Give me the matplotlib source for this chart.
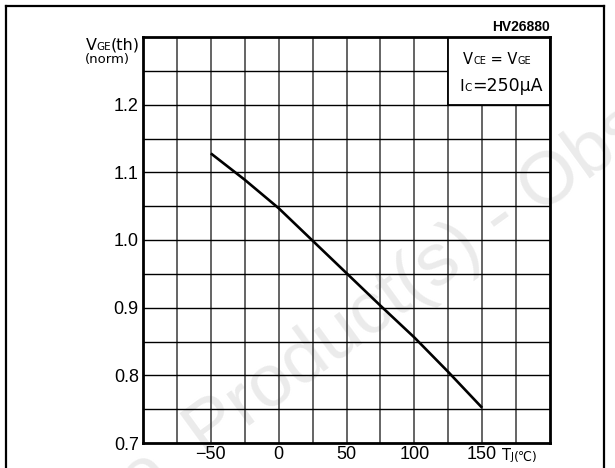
import matplotlib
matplotlib.use("Agg")
import matplotlib.pyplot as plt
from matplotlib.offsetbox import TextArea, HPacker, AnchoredOffsetbox
from matplotlib.patches import Rectangle
from matplotlib.lines import Line2D

# ---- data ----
temps = [-50, -25, 0, 25, 50, 75, 100, 125, 150]
vth_norm = [1.128, 1.089, 1.047, 0.999, 0.951, 0.903, 0.856, 0.805, 0.752]
x_ticks = [-50, 0, 50, 100, 150]
y_ticks = [0.7, 0.8, 0.9, 1.0, 1.1, 1.2]
part_no = "HV26880"

W, H = 615, 468
fig = plt.figure(figsize=(W / 100, H / 100), dpi=100)

def fx(px):
    return px / W

def fy(py):
    return 1 - py / H

L, R, T, B = 143, 550, 37, 443
ax = fig.add_axes([fx(L), fy(B), fx(R) - fx(L), fy(T) - fy(B)])
ax.set_facecolor("none")
ax.set_xlim(-100, 200)
ax.set_ylim(0.7, 1.3)

# grid
for xv in range(-75, 200, 25):
    ax.axvline(xv, color="#4a4a4a", lw=1.2, zorder=1)
for i in range(1, 12):
    yv = 0.7 + 0.05 * i
    ax.axhline(yv, color="black", lw=1.0, zorder=1)

# curve
ax.plot(temps, vth_norm, color="black", lw=1.9, zorder=3, solid_capstyle="butt")

# legend box
ax.add_patch(Rectangle((125, 1.2), 75, 0.1, facecolor="white", edgecolor="black",
                       lw=1.3, zorder=4))

for s in ax.spines.values():
    s.set_linewidth(2.0)
    s.set_zorder(5)

ax.set_xticks(x_ticks)
ax.set_yticks(y_ticks)
ax.set_xticklabels([("\u2212" + str(-v)) if v < 0 else str(v) for v in x_ticks])
ax.set_yticklabels(["%.1f" % v for v in y_ticks])
ax.tick_params(length=0, pad=3, labelsize=13)
for lab in ax.get_xticklabels() + ax.get_yticklabels():
    lab.set_fontfamily("Liberation Sans")
ax.tick_params(axis="x", pad=2)

# outer frame
fig.add_artist(Line2D([fx(6), fx(6)], [fy(6), fy(470)], color="black", lw=1.6))
fig.add_artist(Line2D([fx(6), fx(604)], [fy(6), fy(6)], color="black", lw=1.6))
fig.add_artist(Line2D([fx(604), fx(604)], [fy(6), fy(470)], color="black", lw=1.6))

# watermark
wm_color = "#ebebeb"
fig.text(fx(205), fy(458), "Product(s) - Obsolete", rotation=36, rotation_mode="anchor",
         ha="left", va="baseline", fontsize=54, color=wm_color, zorder=-1,
         family="Liberation Sans")
fig.text(fx(190), fy(469), "Obsolete ", rotation=36, rotation_mode="anchor",
         ha="right", va="baseline", fontsize=54, color=wm_color, zorder=-1,
         family="Liberation Sans")

def rich(segments, x, y, loc):
    kids = []
    for txt, size in segments:
        kids.append(TextArea(txt, textprops=dict(fontsize=size, family="DejaVu Sans",
                                                  color="black")))
    pk = HPacker(children=kids, align="baseline", pad=0, sep=0)
    ab = AnchoredOffsetbox(loc=loc, child=pk, pad=0, borderpad=0, frameon=False,
                           bbox_to_anchor=(fx(x), fy(y)), bbox_transform=fig.transFigure)
    ab.set_zorder(6)
    fig.add_artist(ab)

# axis labels
rich([("V", 11.5), ("GE", 7.5), ("(th)", 11.5)], 140, 45, "center right")
rich([("(norm)", 9.5)], 107, 59, "center")
rich([("T", 10.5), ("J", 7.5), ("(\u2103)", 9)], 502, 456, "center left")

# legend text
rich([("V", 10.5), ("CE", 7), (" = V", 10.5), ("GE", 7)], 497, 60, "center")
rich([("I", 11.5), ("C", 7.5), ("=250\u00b5A", 12.5)], 501, 86, "center")

fig.text(fx(550), fy(27), part_no, ha="right", va="center", fontsize=10,
         family="Liberation Sans", fontweight="bold")

fig.savefig("out.png", dpi=100, facecolor="white")
